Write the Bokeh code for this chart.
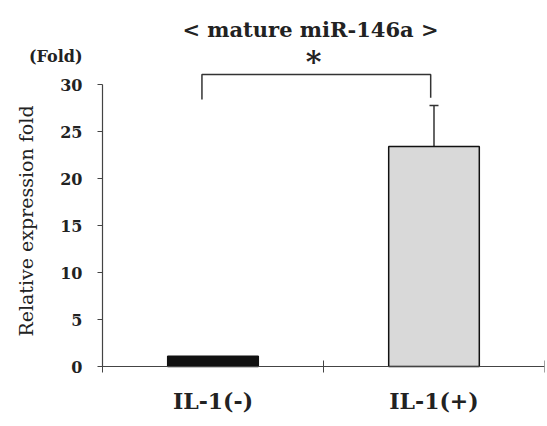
import math
from bokeh.plotting import figure
from bokeh.models import (Range1d, FixedTicker, Whisker, TeeHead, Label, ColumnDataSource)
from bokeh.embed import file_html
from bokeh.resources import INLINE

# ---- data ----
categories = ["IL-1(-)", "IL-1(+)"]
x_pos = [0.5, 1.5]
values = [1.1, 23.4]
errors = [0.0, 4.37]
y_ticks = [0, 5, 10, 15, 20, 25, 30]
bar_colors = ["#111111", "#d9d9d9"]
bracket_x = [0.45, 0.45, 1.485, 1.485]
bracket_y = [28.4, 31.06, 31.06, 28.6]
title_text = "< mature miR-146a >"
star_text = "*"
unit_text = "(Fold)"
y_label = "Relative expression fold"

FONT = "DejaVu Serif"
INK = "#222222"
AX = "#444444"

p = figure(width=547, height=426, output_backend="svg", toolbar_location=None,
           x_range=Range1d(-0.4615, 2.0), y_range=Range1d(-6.38, 38.94),
           min_border_left=0, min_border_right=3, min_border_top=0,
           min_border_bottom=0)
p.background_fill_color = "white"
p.border_fill_color = "white"
p.outline_line_color = None
p.xgrid.visible = False
p.ygrid.visible = False

src = ColumnDataSource(dict(x=x_pos, top=values, color=bar_colors))
p.vbar(x="x", top="top", width=0.41, bottom=0, fill_color="color",
       line_color="#111111", line_width=1.5, source=src)

err_src = ColumnDataSource(dict(x=x_pos[1:], upper=[values[1] + errors[1]], lower=[values[1]]))
w = Whisker(base="x", upper="upper", lower="lower", source=err_src,
            line_color="#333333", line_width=1.5,
            upper_head=TeeHead(size=9, line_color="#333333", line_width=1.5),
            lower_head=None)
p.add_layout(w)

p.line(bracket_x, bracket_y, line_color="#333333", line_width=1.5)

# y axis, pinned at x = 0
ya = p.yaxis[0]
ya.fixed_location = 0
ya.ticker = FixedTicker(ticks=y_ticks)
ya.bounds = (0, 30)
ya.axis_line_color = AX
ya.axis_line_width = 1.2
ya.major_tick_line_color = AX
ya.major_tick_in = 0
ya.major_tick_out = 5
ya.minor_tick_line_color = None
ya.major_label_text_font = FONT
ya.major_label_text_font_style = "bold"
ya.major_label_text_font_size = "16px"
ya.major_label_text_color = INK
ya.major_label_standoff = 15

# x axis, pinned at y = 0
xa = p.xaxis[0]
xa.fixed_location = 0
xa.ticker = FixedTicker(ticks=x_pos, minor_ticks=[0, 1, 2])
xa.bounds = (-0.02, 2.0)
xa.major_label_overrides = {x: c for x, c in zip(x_pos, categories)}
xa.major_tick_line_color = None
xa.major_tick_out = 0
xa.major_tick_in = 0
xa.minor_tick_line_color = AX
xa.minor_tick_in = 6
xa.minor_tick_out = 6
xa.axis_line_color = AX
xa.axis_line_width = 1.2
xa.major_label_text_font = FONT
xa.major_label_text_font_style = "bold"
xa.major_label_text_font_size = "22px"
xa.major_label_text_color = INK
xa.major_label_standoff = 15

p.add_layout(Label(x=-0.348, y=15.48, text=y_label, text_font=FONT,
                   text_font_size="19px", angle=math.pi / 2,
                   text_align="center", text_baseline="middle",
                   text_color=INK))
p.add_layout(Label(x=0.941, y=35.85, text=title_text, text_font=FONT,
                   text_font_style="bold", text_font_size="21px",
                   text_align="center", text_baseline="middle",
                   text_color=INK))
p.add_layout(Label(x=-0.0905, y=33.03, text=unit_text, text_font=FONT,
                   text_font_style="bold", text_font_size="16px",
                   text_align="right", text_baseline="middle",
                   text_color=INK))
p.add_layout(Label(x=0.955, y=32.45, text=star_text, text_font=FONT,
                   text_font_style="bold", text_font_size="30px",
                   text_align="center", text_baseline="middle",
                   text_color=INK))

open("out.html", "w").write(file_html(p, INLINE))
